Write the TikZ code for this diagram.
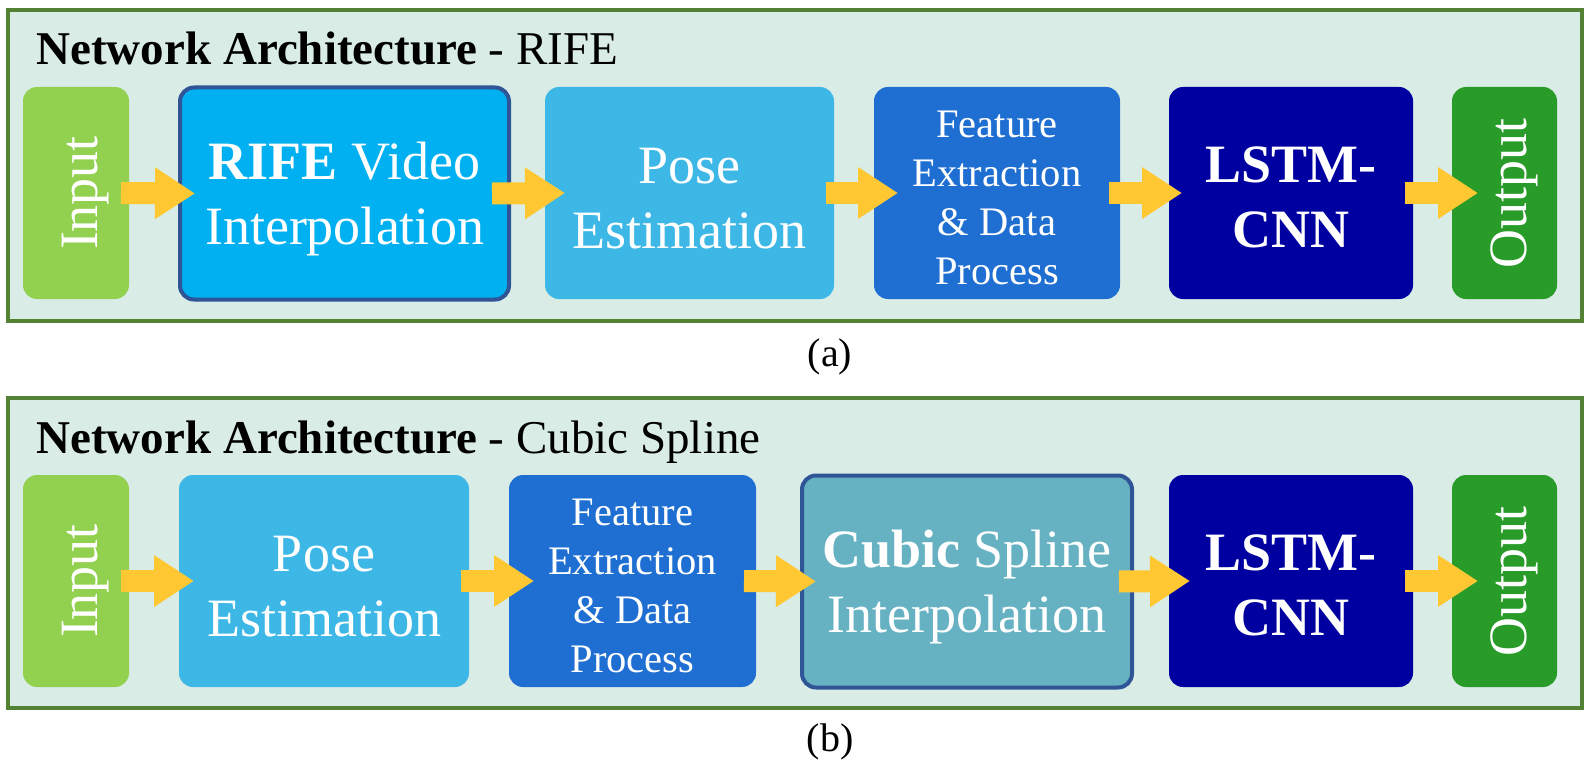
\documentclass[tikz,border=0pt]{standalone}
\usepackage{fontspec}
\setmainfont{Liberation Serif}
\usetikzlibrary{arrows.meta}
\definecolor{panelbg}{HTML}{D9ECE6}
\definecolor{panelfr}{HTML}{548235}
\definecolor{cinput}{HTML}{92D050}
\definecolor{crife}{HTML}{00B0F0}
\definecolor{cedge}{HTML}{2F5597}
\definecolor{cpose}{HTML}{3DB8E6}
\definecolor{cfeat}{HTML}{1F6FD2}
\definecolor{clstm}{HTML}{0000A0}
\definecolor{cout}{HTML}{289B28}
\definecolor{ccubic}{HTML}{66B2C2}
\definecolor{carrow}{HTML}{FFC832}
\begin{document}
\begin{tikzpicture}[x=1pt,y=-1pt,
 panel/.style={draw=panelfr, line width=4pt, fill=panelbg},
 box/.style={rounded corners=14pt, inner sep=0pt, outer sep=0pt, minimum height=212pt},
 hlbox/.style={box, draw=cedge, line width=4pt, minimum height=212pt},
 boxtext/.style={text=white, align=center, inner sep=0pt, font=\fontsize{54}{65}\selectfont},
 smalltext/.style={boxtext, font=\fontsize{40.5}{49}\selectfont},
 vtext/.style={boxtext, rotate=90},
 flow/.style={draw=carrow, line width=22pt, -{Triangle[length=40pt,width=49pt]}},
 title/.style={anchor=base west, font=\fontsize{47}{56}\selectfont},
 captext/.style={font=\fontsize{40}{48}\selectfont}
]
\useasboundingbox[fill=white] (0,0) rectangle (1588,781);
% ---------- panel (a)
\draw[panel] (8,10) rectangle (1582,321);
\node[title] (ta) at (33,65) {\textbf{Network Architecture} - RIFE};
\node[box, fill=cinput, minimum width=106pt] (ina) at (76,193) {};
\node[hlbox, fill=crife, minimum width=329pt] (rifea) at (344.5,193.5) {};
\node[box, fill=cpose, minimum width=289pt] (posea) at (689.5,193) {};
\node[box, fill=cfeat, minimum width=246pt] (feata) at (997,193) {};
\node[box, fill=clstm, minimum width=244pt] (lstma) at (1291,193) {};
\node[box, fill=cout, minimum width=105pt] (outa) at (1504.5,193) {};
\node[vtext] (ina-t) at ([xshift=10pt]ina.center) {Input};
\node[boxtext] (rifea-t) at ([yshift=-6pt]rifea.center) {\textbf{RIFE} Video\\Interpolation};
\node[boxtext] (posea-t) at ([yshift=-6pt]posea.center) {Pose\\Estimation};
\node[smalltext] (feata-t) at ([yshift=-5pt]feata.center) {Feature\\Extraction\\\& Data\\Process};
\node[boxtext] (lstma-t) at ([yshift=-4pt]lstma.center) {\textbf{LSTM-}\\\textbf{CNN}};
\node[vtext] (outa-t) at ([xshift=10pt]outa.center) {Output};
\draw[flow] ([xshift=-8pt]ina.east) -- ([xshift=15pt]rifea.west);
\draw[flow] ([xshift=-17pt]rifea.east) -- ([xshift=20pt]posea.west);
\draw[flow] ([xshift=-8pt]posea.east) -- ([xshift=24pt]feata.west);
\draw[flow] ([xshift=-11pt]feata.east) -- ([xshift=13pt]lstma.west);
\draw[flow] ([xshift=-8pt]lstma.east) -- ([xshift=26pt]outa.west);
\node[captext] (capa) at (830,357) {(a)};
% ---------- panel (b)
\draw[panel] (8,398) rectangle (1582,708);
\node[title] (tb) at (33,453) {\textbf{Network Architecture} - Cubic Spline};
\node[box, fill=cinput, minimum width=106pt] (inb) at (76,581) {};
\node[box, fill=cpose, minimum width=290pt] (poseb) at (324,581) {};
\node[box, fill=cfeat, minimum width=247pt] (featb) at (632.5,581) {};
\node[hlbox, fill=ccubic, minimum width=330pt] (cubicb) at (967,581.5) {};
\node[box, fill=clstm, minimum width=244pt] (lstmb) at (1291,581) {};
\node[box, fill=cout, minimum width=105pt] (outb) at (1504.5,581) {};
\node[vtext] (inb-t) at ([xshift=10pt]inb.center) {Input};
\node[boxtext] (poseb-t) at ([yshift=-6pt]poseb.center) {Pose\\Estimation};
\node[smalltext] (featb-t) at ([yshift=-5pt]featb.center) {Feature\\Extraction\\\& Data\\Process};
\node[boxtext] (cubicb-t) at ([yshift=-6pt]cubicb.center) {\textbf{Cubic} Spline\\Interpolation};
\node[boxtext] (lstmb-t) at ([yshift=-4pt]lstmb.center) {\textbf{LSTM-}\\\textbf{CNN}};
\node[vtext] (outb-t) at ([xshift=10pt]outb.center) {Output};
\draw[flow] ([xshift=-8pt]inb.east) -- ([xshift=15pt]poseb.west);
\draw[flow] ([xshift=-8pt]poseb.east) -- ([xshift=25pt]featb.west);
\draw[flow] ([xshift=-12pt]featb.east) -- ([xshift=14pt]cubicb.west);
\draw[flow] ([xshift=-13pt]cubicb.east) -- ([xshift=21pt]lstmb.west);
\draw[flow] ([xshift=-8pt]lstmb.east) -- ([xshift=26pt]outb.west);
\node[captext] (capb) at (830,742) {(b)};
\end{tikzpicture}
\end{document}
